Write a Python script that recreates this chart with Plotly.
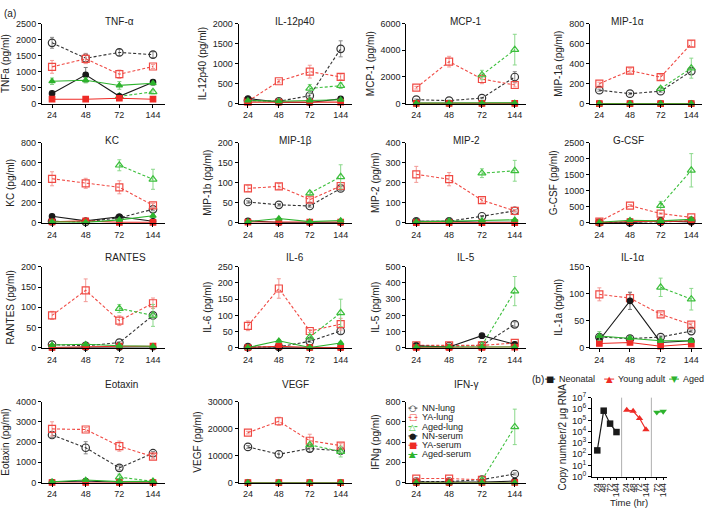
import plotly.graph_objects as go

W, H = 709, 513

hours = ["24", "48", "72", "144"]
names = ["NN-lung", "YA-lung", "Aged-lung", "NN-serum", "YA-serum", "Aged-serum"]

# rows in every block: NN-lung, YA-lung, Aged-lung, NN-serum, YA-serum, Aged-serum
tnf = [[1900, 1420, 1600, 1530], [1150, 1400, 920, 1160], [None, None, 230, 370],
       [320, 900, 230, 670], [140, 140, 170, 140], [700, 730, 570, 640]]
tnf_err = [[170, 150, 100, 90], [200, 150, 130, 60], [0, 0, 50, 60],
           [30, 230, 50, 60], [20, 20, 20, 20], [100, 80, 120, 30]]

il12 = [[80, 60, 200, 1370], [60, 560, 800, 670], [None, None, 380, 450],
        [130, 40, 30, 120], [40, 40, 40, 40], [80, 60, 80, 100]]
il12_err = [[30, 10, 50, 200], [10, 40, 160, 70], [0, 0, 100, 70],
            [20, 10, 10, 20], [0, 0, 0, 0], [10, 10, 10, 10]]

mcp1 = [[300, 230, 420, 2000], [1200, 3150, 1850, 1400], [None, None, 2150, 4050],
        [30, 30, 30, 30], [20, 20, 20, 20], [40, 40, 40, 60]]
mcp1_err = [[50, 30, 50, 400], [100, 400, 350, 150], [0, 0, 350, 1150],
            [0, 0, 0, 0], [0, 0, 0, 0], [0, 0, 0, 0]]

mip1a = [[135, 100, 125, 325], [200, 330, 265, 600], [None, None, 150, 355],
         [2, 2, 2, 2], [1, 1, 1, 1], [1, 1, 1, 1]]
mip1a_err = [[10, 10, 10, 30], [15, 25, 25, 30], [0, 0, 20, 100],
             [0, 0, 0, 0], [0, 0, 0, 0], [0, 0, 0, 0]]

kc = [[15, 10, 50, 135], [440, 395, 355, 175], [None, None, 575, 435],
      [65, 20, 60, 15], [10, 20, 5, 5], [10, 5, 30, 70]]
kc_err = [[5, 5, 10, 15], [70, 50, 65, 20], [0, 0, 55, 100],
          [10, 5, 10, 5], [0, 0, 0, 0], [5, 5, 10, 15]]

mip1b = [[52, 45, 42, 86], [86, 91, 58, 92], [None, None, 74, 115],
         [5, 1, 1, 1], [2, 2, 2, 2], [3, 11, 3, 6]]
mip1b_err = [[3, 3, 3, 5], [8, 7, 6, 5], [0, 0, 5, 30],
             [1, 0, 0, 0], [0, 0, 0, 0], [1, 2, 1, 1]]

mip2 = [[8, 8, 33, 60], [242, 218, 113, 60], [None, None, 248, 260],
        [8, 8, 3, 3], [1, 1, 1, 1], [5, 10, 12, 15]]
mip2_err = [[1, 1, 3, 5], [40, 33, 10, 5], [0, 0, 22, 52],
            [1, 1, 0, 0], [0, 0, 0, 0], [1, 1, 2, 2]]

gcsf = [[10, 10, 30, 60], [40, 540, 290, 170], [None, None, 540, 1640],
        [5, 5, 70, 20], [10, 40, 40, 60], [20, 80, 60, 110]]
gcsf_err = [[0, 0, 5, 10], [10, 30, 20, 20], [0, 0, 130, 520],
            [0, 0, 10, 5], [0, 5, 5, 10], [5, 10, 10, 20]]

rantes = [[8, 5, 13, 80], [80, 142, 67, 110], [None, None, 97, 80],
          [1, 1, 1, 2], [1, 3, 4, 4], [7, 9, 5, 4]]
rantes_err = [[1, 1, 2, 5], [10, 28, 12, 13], [0, 0, 10, 27],
              [0, 0, 0, 0], [0, 0, 0, 0], [1, 1, 1, 1]]

il6 = [[2, 3, 20, 52], [68, 183, 52, 73], [None, None, 33, 108],
       [2, 2, 1, 1], [1, 5, 1, 1], [1, 22, 1, 15]]
il6_err = [[0, 0, 3, 10], [15, 30, 5, 18], [0, 0, 8, 42],
           [0, 0, 0, 0], [0, 1, 0, 0], [0, 3, 0, 3]]

il5 = [[10, 10, 15, 145], [15, 15, 15, 30], [None, None, 15, 350],
       [12, 5, 75, 22], [2, 2, 2, 5], [5, 5, 5, 5]]
il5_err = [[2, 2, 3, 15], [3, 3, 3, 8], [0, 0, 5, 90],
           [2, 1, 8, 4], [0, 0, 0, 0], [0, 0, 0, 0]]

il1a = [[20, 17, 20, 31], [99, 92, 62, 43], [None, None, 112, 90],
        [14, 87, 10, 13], [8, 10, 3, 7], [22, 18, 13, 13]]
il1a_err = [[2, 2, 2, 2], [12, 10, 3, 3], [0, 0, 17, 20],
            [2, 16, 2, 2], [2, 2, 2, 3], [8, 3, 3, 3]]

eotaxin = [[2350, 1720, 730, 1450], [2650, 2620, 1800, 1280], [None, None, 270, 60],
           [30, 80, 10, 10], [5, 5, 5, 5], [40, 130, 50, 60]]
eotaxin_err = [[120, 300, 100, 80], [350, 100, 250, 100], [0, 0, 150, 40],
               [10, 20, 5, 5], [0, 0, 0, 0], [10, 30, 10, 10]]

vegf = [[13200, 10500, 12600, 11800], [18500, 22700, 15500, 13700], [None, None, 14000, 11500],
        [10, 10, 10, 10], [10, 10, 10, 10], [10, 10, 10, 10]]
vegf_err = [[500, 1300, 1200, 800], [500, 1500, 2400, 700], [0, 0, 500, 2000],
            [0, 0, 0, 0], [0, 0, 0, 0], [0, 0, 0, 0]]

ifng = [[10, 10, 30, 85], [40, 40, 28, None], [None, None, 25, 550],
        [5, 5, 5, 15], [1, 1, 1, 1], [1, 1, 1, 1]]
ifng_err = [[2, 2, 5, 10], [3, 3, 3, 0], [0, 0, 10, 175],
            [0, 0, 0, 3], [0, 0, 0, 0], [0, 0, 0, 0]]

panels = [
    ("TNF-α", "TNFa (pg/ml)", tnf, tnf_err, 2500, 500),
    ("IL-12p40", "IL-12p40 (pg/ml)", il12, il12_err, 2000, 500),
    ("MCP-1", "MCP-1 (pg/ml)", mcp1, mcp1_err, 6000, 2000),
    ("MIP-1α", "MIP-1a (pg/ml)", mip1a, mip1a_err, 800, 200),
    ("KC", "KC (pg/ml)", kc, kc_err, 800, 200),
    ("MIP-1β", "MIP-1b (pg/ml)", mip1b, mip1b_err, 200, 50),
    ("MIP-2", "MIP-2 (pg/ml)", mip2, mip2_err, 400, 100),
    ("G-CSF", "G-CSF (pg/ml)", gcsf, gcsf_err, 2500, 500),
    ("RANTES", "RANTES (pg/ml)", rantes, rantes_err, 200, 50),
    ("IL-6", "IL-6 (pg/ml)", il6, il6_err, 250, 50),
    ("IL-5", "IL-5 (pg/ml)", il5, il5_err, 500, 100),
    ("IL-1α", "IL-1a (pg/ml)", il1a, il1a_err, 150, 50),
    ("Eotaxin", "Eotaxin (pg/ml)", eotaxin, eotaxin_err, 4000, 1000),
    ("VEGF", "VEGF (pg/ml)", vegf, vegf_err, 30000, 10000),
    ("IFN-γ", "IFNg (pg/ml)", ifng, ifng_err, 800, 200),
]

# panel (b): viral copy number
b_labels = ["24", "48", "72", "144", "24", "48", "72", "144", "72", "144"]
b_pos = [0, 1, 2, 3, 4.6, 5.6, 6.6, 7.6, 9.3, 10.3]
b_neonatal = [215, 7e5, 5e4, 9e3]
b_young = [8e5, 6.5e5, 1.5e5, 1.5e4]
b_aged = [5e5, 6e5]

BLACK, RED, GREEN = "#1a1a1a", "#ee2b26", "#2db32d"
FONT = "Liberation Sans, Arial, sans-serif"

styles = [
    dict(color="#333333", symbol="circle-open", dash="3px,2px", size=7.5, err="#8a8a8a"),
    dict(color="#f04a44", symbol="square-open", dash="3px,2px", size=7, err="#f39a96"),
    dict(color="#3cbf3c", symbol="triangle-up-open", dash="3px,2px", size=7, err="#8ad88a"),
    dict(color=BLACK, symbol="circle", dash="solid", size=5.5, err="#777777"),
    dict(color=RED, symbol="square", dash="solid", size=5.5, err="#f08080"),
    dict(color=GREEN, symbol="triangle-up", dash="solid", size=5.5, err="#80cc80"),
]

cols_px = [(42, 165), (239, 352), (407, 527), (591, 703)]
rows_px = [(17, 99), (139, 221), (266, 349), (404, 487)]


def xd(a, b):
    return [a / W, b / W]


def yd(top, bottom):
    return [1 - bottom / H, 1 - top / H]


def py(ypx):
    return 1 - ypx / H


fig = go.Figure()
annotations = []
shapes = []

axis_common = dict(showline=True, linecolor="black", linewidth=1, ticks="outside",
                   ticklen=3, tickwidth=1, tickcolor="black", showgrid=False,
                   zeroline=False, tickfont=dict(size=9, family=FONT, color="#222"))

for i, (title, ytitle, means, errs, ymax, dtick) in enumerate(panels):
    r, c = divmod(i, 4)
    k = i + 1
    xa, ya = f"x{k}", f"y{k}"
    for s in range(6):
        st = styles[s]
        fig.add_trace(go.Scatter(
            x=hours, y=means[s], xaxis=xa, yaxis=ya, name=names[s],
            mode="lines+markers", showlegend=False, cliponaxis=False,
            line=dict(color=st["color"], width=1.1, dash=st["dash"]),
            marker=dict(symbol=st["symbol"], size=st["size"], color=st["color"],
                        line=dict(width=1.2, color=st["color"])),
            error_y=dict(type="data", array=errs[s], color=st["err"], thickness=1, width=2),
        ))
    x0, x1 = cols_px[c]
    top, bot = rows_px[r]
    # 24 sits about 10 px right of the y axis, 144 about 11 px left of the end
    fig.layout[f"xaxis{k}"] = dict(axis_common, domain=xd(x0, x1), anchor=ya,
                                   type="category", categoryorder="array",
                                   categoryarray=hours, range=[-0.3, 3.35])
    fig.layout[f"yaxis{k}"] = dict(axis_common, domain=yd(top, bot), anchor=xa,
                                   range=[0, ymax], dtick=dtick, tick0=0, tickformat="d",
                                   title=dict(text=ytitle, standoff=4,
                                              font=dict(size=10, family=FONT, color="#222")))
    annotations.append(dict(text=title, x=(x0 + x1) / 2 / W, y=py(top - 10),
                            xref="paper", yref="paper", showarrow=False,
                            font=dict(size=10, family=FONT, color="#222")))

# panel (b)
b_groups = [(b_neonatal, b_pos[0:4], BLACK, "square"),
            (b_young, b_pos[4:8], RED, "triangle-up"),
            (b_aged, b_pos[8:10], GREEN, "triangle-down")]
for vals, pos, col, sym in b_groups:
    fig.add_trace(go.Scatter(
        x=pos, y=vals, xaxis="x16", yaxis="y16", mode="lines+markers",
        showlegend=False, cliponaxis=False,
        line=dict(color=col, width=1.2), marker=dict(symbol=sym, size=6.5, color=col),
    ))
fig.layout["xaxis16"] = dict(axis_common, domain=xd(593, 668), anchor="y16",
                             range=[-0.8, 10.9], tickvals=b_pos, ticktext=b_labels,
                             tickangle=-90, ticklen=2,
                             tickfont=dict(size=8.5, family=FONT, color="#222"))
fig.layout["yaxis16"] = dict(axis_common, domain=yd(400, 481), anchor="x16",
                             type="log", range=[0, 7],
                             tickvals=[10 ** p for p in range(8)],
                             ticktext=[f"10<sup>{p}</sup>" for p in range(8)],
                             tickfont=dict(size=9.5, family=FONT, color="#222"),
                             title=dict(text="Copy number/2 μg RNA", standoff=3,
                                        font=dict(size=10, family=FONT, color="#222")))
for xdiv in (3.8, 8.45):
    shapes.append(dict(type="line", xref="x16", yref="y16 domain", x0=xdiv, x1=xdiv,
                       y0=0, y1=1, line=dict(color="#b0b0b0", width=1)))
annotations.append(dict(text="Time (hr)", x=630 / W, y=py(507), xref="paper", yref="paper",
                        showarrow=False, xanchor="center", yanchor="middle",
                        font=dict(size=9.5, family=FONT, color="#222")))

# legend of panel (a), drawn inside the IFN-gamma axes
glyphs = ["○", "□", "△", "●", "■", "▲"]
for s in range(6):
    ypx = 410.7 + 9.5 * s
    st = styles[s]
    shapes.append(dict(type="line", xref="paper", yref="paper", x0=409 / W, x1=418 / W,
                       y0=py(ypx), y1=py(ypx),
                       line=dict(color=st["color"], width=1,
                                 dash="dot" if s < 3 else "solid")))
    annotations.append(dict(text=glyphs[s], x=413.5 / W, y=py(ypx), xref="paper",
                            yref="paper", showarrow=False, xanchor="center", yanchor="middle",
                            font=dict(size=8.5, family="DejaVu Sans", color=st["color"])))
    annotations.append(dict(text=names[s], x=421 / W, y=py(ypx), xref="paper",
                            yref="paper", showarrow=False, xanchor="left", yanchor="middle",
                            font=dict(size=9, family=FONT, color="#222")))

# legend of panel (b)
b_leg = [("Neonatal", "■", BLACK, 551), ("Young adult", "▲", RED, 610), ("Aged", "▼", GREEN, 675)]
for label, g, col, xpx in b_leg:
    shapes.append(dict(type="line", xref="paper", yref="paper", x0=(xpx - 5) / W,
                       x1=(xpx + 5) / W, y0=py(381), y1=py(381),
                       line=dict(color=col, width=1)))
    annotations.append(dict(text=g, x=xpx / W, y=py(381), xref="paper", yref="paper",
                            showarrow=False, xanchor="center", yanchor="middle",
                            font=dict(size=8.5, family="DejaVu Sans", color=col)))
    annotations.append(dict(text=label, x=(xpx + 7) / W, y=py(381), xref="paper",
                            yref="paper", showarrow=False, xanchor="left", yanchor="middle",
                            font=dict(size=9, family=FONT, color="#222")))

annotations.append(dict(text="(a)", x=2 / W, y=py(7), xref="paper", yref="paper",
                        showarrow=False, xanchor="left", yanchor="middle",
                        font=dict(size=10, family=FONT, color="#222")))
annotations.append(dict(text="(b)", x=531 / W, y=py(381), xref="paper", yref="paper",
                        showarrow=False, xanchor="left", yanchor="middle",
                        font=dict(size=10, family=FONT, color="#222")))

fig.update_layout(
    width=W, height=H,
    margin=dict(l=0, r=0, t=0, b=0),
    plot_bgcolor="white", paper_bgcolor="white",
    font=dict(family=FONT, size=10, color="#222"),
    annotations=annotations, shapes=shapes,
    showlegend=False,
)

# the page body has a default 8px margin; drop it so the figure fills the window
fig.write_html("out.html", config={"displayModeBar": False},
               post_script="document.body.style.margin='0';document.body.style.padding='0';")
